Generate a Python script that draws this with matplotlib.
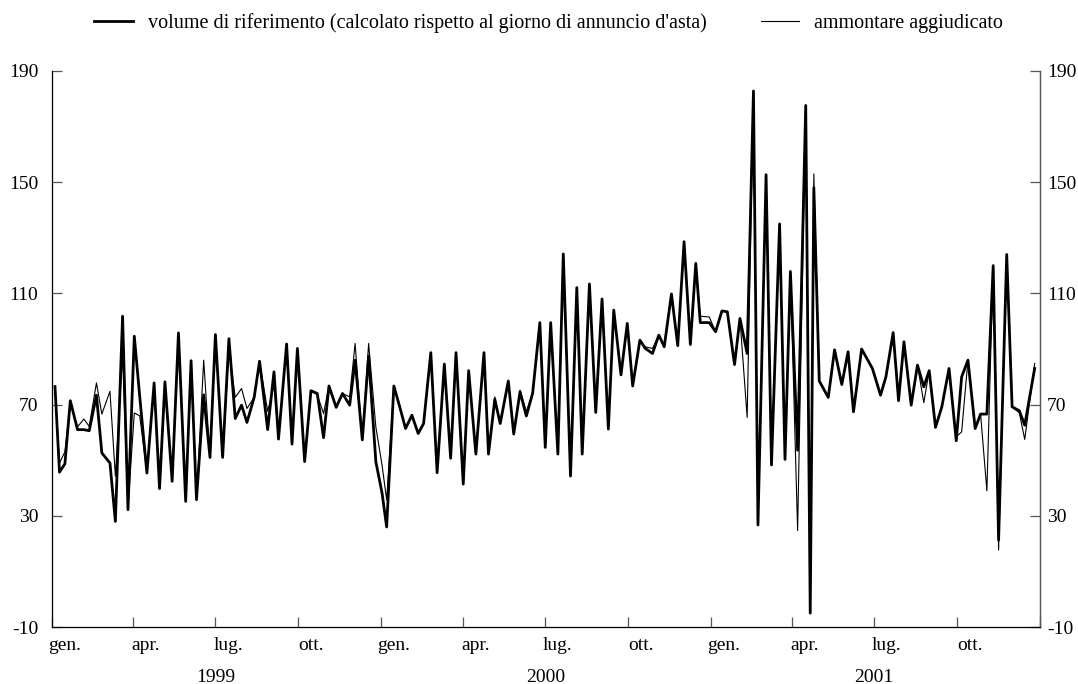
import numpy as np
import pandas as pd
import matplotlib
matplotlib.use('Agg')
import matplotlib.pyplot as plt
import matplotlib.dates as mdates
from matplotlib.lines import Line2D

# auction dates
dates = [
    '1999-01-04', '1999-01-09', '1999-01-15', '1999-01-21', '1999-01-29', '1999-02-05', '1999-02-11',
    '1999-02-19', '1999-02-25', '1999-03-06', '1999-03-12', '1999-03-20', '1999-03-26', '1999-04-02',
    '1999-04-08', '1999-04-16', '1999-04-24', '1999-04-30', '1999-05-06', '1999-05-14', '1999-05-21',
    '1999-05-29', '1999-06-04', '1999-06-10', '1999-06-18', '1999-06-25', '1999-07-01', '1999-07-09',
    '1999-07-16', '1999-07-23', '1999-07-30', '1999-08-05', '1999-08-13', '1999-08-19', '1999-08-28',
    '1999-09-04', '1999-09-09', '1999-09-18', '1999-09-24', '1999-09-30', '1999-10-08', '1999-10-15',
    '1999-10-22', '1999-10-29', '1999-11-04', '1999-11-12', '1999-11-19', '1999-11-27', '1999-12-03',
    '1999-12-11', '1999-12-18', '1999-12-26', '2000-01-02', '2000-01-07', '2000-01-15', '2000-01-21',
    '2000-01-28', '2000-02-04', '2000-02-11', '2000-02-17', '2000-02-25', '2000-03-03', '2000-03-11',
    '2000-03-18', '2000-03-24', '2000-04-01', '2000-04-07', '2000-04-15', '2000-04-24', '2000-04-29',
    '2000-05-06', '2000-05-12', '2000-05-21', '2000-05-27', '2000-06-03', '2000-06-10', '2000-06-17',
    '2000-06-25', '2000-07-01', '2000-07-07', '2000-07-15', '2000-07-21', '2000-07-29', '2000-08-05',
    '2000-08-11', '2000-08-19', '2000-08-26', '2000-09-02', '2000-09-09', '2000-09-15', '2000-09-23',
    '2000-09-30', '2000-10-06', '2000-10-14', '2000-10-20', '2000-10-28', '2000-11-04', '2000-11-10',
    '2000-11-18', '2000-11-25', '2000-12-02', '2000-12-09', '2000-12-15', '2000-12-20', '2000-12-30',
    '2001-01-06', '2001-01-13', '2001-01-19', '2001-01-27', '2001-02-02', '2001-02-10', '2001-02-17',
    '2001-02-22', '2001-03-03', '2001-03-09', '2001-03-18', '2001-03-24', '2001-03-30', '2001-04-07',
    '2001-04-16', '2001-04-21', '2001-04-25', '2001-05-01', '2001-05-11', '2001-05-18', '2001-05-26',
    '2001-06-02', '2001-06-08', '2001-06-17', '2001-06-29', '2001-07-08', '2001-07-14', '2001-07-22',
    '2001-07-28', '2001-08-03', '2001-08-11', '2001-08-18', '2001-08-25', '2001-08-31', '2001-09-07',
    '2001-09-14', '2001-09-22', '2001-09-30', '2001-10-06', '2001-10-13', '2001-10-21', '2001-10-27',
    '2001-11-03', '2001-11-10', '2001-11-16', '2001-11-25', '2001-12-01', '2001-12-09', '2001-12-15',
    '2001-12-26',
]

# volume di riferimento (thick line)
volume_rif = [
    76.5, 45.7, 48.7, 71.4, 61.0, 61.0, 60.6, 73.4, 52.6, 49.0, 28.0, 101.8, 32.2, 94.6,
    73.0, 45.4, 77.8, 39.8, 78.2, 42.4, 95.8, 35.2, 85.8, 35.8, 73.5, 51.0, 95.2, 51.0,
    93.7, 65.0, 69.8, 63.6, 72.6, 85.6, 61.0, 81.8, 57.6, 91.8, 55.8, 90.2, 49.5, 75.0,
    74.0, 58.1, 76.7, 69.0, 74.0, 69.8, 86.0, 57.3, 87.5, 49.5, 38.0, 26.0, 76.7, 69.8,
    61.4, 66.2, 59.6, 63.2, 88.7, 45.5, 84.6, 50.7, 88.7, 41.4, 82.2, 52.2, 88.7, 52.2,
    71.9, 63.2, 78.5, 59.4, 74.6, 65.9, 74.1, 99.5, 54.6, 99.5, 52.2, 124.2, 44.3, 112.1,
    52.2, 113.4, 67.2, 108.0, 61.2, 104.0, 80.7, 99.2, 76.7, 93.2, 90.2, 88.4, 95.0, 90.8,
    109.8, 91.2, 128.6, 91.6, 120.8, 99.5, 99.5, 96.2, 103.7, 103.4, 84.4, 101.0, 88.4, 182.8,
    26.7, 152.7, 48.3, 135.0, 50.3, 117.9, 53.6, 177.6, -5.0, 148.0, 78.5, 72.6, 89.7, 77.2,
    89.0, 67.4, 90.0, 83.0, 73.4, 80.0, 95.9, 71.4, 92.6, 69.8, 84.2, 76.4, 82.2, 61.8,
    69.2, 83.0, 57.0, 80.0, 86.0, 61.4, 66.6, 66.6, 120.0, 21.3, 124.0, 69.2, 67.8, 62.6,
    83.0,
]

# ammontare aggiudicato (thin line)
ammontare = [
    76.5, 49.0, 53.0, 70.5, 62.0, 64.8, 62.2, 77.8, 66.6, 74.8, 44.2, 88.0, 33.0, 67.0,
    66.0, 45.4, 77.8, 39.8, 76.0, 42.4, 95.8, 35.2, 85.8, 35.8, 86.0, 51.0, 95.2, 51.0,
    90.0, 72.6, 75.8, 68.6, 72.6, 85.6, 67.6, 77.0, 57.6, 91.8, 55.8, 90.2, 49.5, 75.0,
    73.5, 66.8, 76.7, 69.0, 74.0, 72.8, 92.0, 57.3, 92.0, 62.0, 48.0, 35.7, 76.7, 69.8,
    61.4, 66.2, 59.6, 63.2, 88.7, 45.5, 84.6, 50.7, 88.7, 41.4, 82.2, 52.2, 88.7, 52.2,
    72.8, 63.2, 78.5, 59.4, 75.2, 67.5, 74.1, 99.5, 54.6, 99.5, 52.2, 124.2, 44.3, 112.1,
    52.2, 113.4, 67.2, 108.0, 61.2, 104.0, 80.7, 99.2, 76.7, 93.2, 90.8, 90.2, 95.0, 90.8,
    109.8, 91.2, 128.6, 91.6, 120.8, 101.8, 101.5, 96.2, 103.7, 103.4, 84.4, 101.0, 65.4, 182.8,
    26.7, 152.7, 48.3, 135.0, 50.3, 117.9, 24.7, 177.6, -2.0, 153.0, 78.5, 72.6, 89.7, 77.2,
    89.0, 67.4, 90.0, 83.0, 73.4, 80.0, 95.9, 71.4, 92.6, 69.8, 84.2, 70.7, 82.2, 61.8,
    69.2, 83.0, 58.4, 60.2, 86.0, 61.4, 66.6, 39.0, 120.0, 17.7, 124.0, 69.2, 67.0, 57.5,
    84.8,
]

y_ticks = [-10, 30, 70, 110, 150, 190]
mesi = {1: 'gen.', 4: 'apr.', 7: 'lug.', 10: 'ott.'}
anni = [1999, 2000, 2001]
legend_labels = ["volume di riferimento (calcolato rispetto al giorno di annuncio d'asta)",
                 'ammontare aggiudicato']


def main():
    plt.rcParams['font.family'] = ['Liberation Serif', 'DejaVu Serif']
    plt.rcParams['axes.unicode_minus'] = False
    x = pd.to_datetime(dates)

    fig = plt.figure(figsize=(10.78, 6.84), dpi=100)
    ax = fig.add_axes([0.0485, 0.0833, 0.9163, 0.8129])

    ax.plot(x, ammontare, color='black', linewidth=0.8)
    ax.plot(x, volume_rif, color='black', linewidth=2.0)

    # axes limits
    ax.set_xlim(pd.Timestamp('1999-01-01'), pd.Timestamp('2002-01-01'))
    ax.set_ylim(-10, 190)
    ax.set_yticks(y_ticks)

    # spines: no top border
    ax.spines['top'].set_visible(False)
    for s in ['left', 'right', 'bottom']:
        ax.spines[s].set_color('#555555')
        ax.spines[s].set_linewidth(0.9)

    # left y ticks
    ax.tick_params(axis='y', direction='in', length=7, width=0.9, color='#555555',
                   labelsize=14, pad=10)

    # right y axis, same scale
    ax2 = ax.twinx()
    ax2.set_ylim(ax.get_ylim())
    ax2.set_yticks(y_ticks)
    ax2.spines['top'].set_visible(False)
    ax2.spines['right'].set_color('#555555')
    ax2.spines['right'].set_linewidth(0.9)
    ax2.tick_params(axis='y', direction='in', length=7, width=0.9, color='#555555',
                    labelsize=14, pad=5)

    # x: quarter ticks, month labels at mid-month
    ax.xaxis.set_major_locator(mdates.MonthLocator(bymonth=[1, 4, 7, 10]))
    ax.xaxis.set_major_formatter(plt.NullFormatter())
    ax.xaxis.set_minor_locator(mdates.MonthLocator(bymonth=[1, 4, 7, 10], bymonthday=15))
    ax.xaxis.set_minor_formatter(plt.FuncFormatter(lambda v, p: mesi[mdates.num2date(v).month]))
    ax.tick_params(axis='x', which='major', direction='in', length=7, width=0.9, color='#555555')
    ax.tick_params(axis='x', which='minor', length=0, labelsize=14, pad=7)

    # year labels
    for a in anni:
        ax.text(pd.Timestamp('%d-07-01' % a), -0.09, str(a), transform=ax.get_xaxis_transform(),
                ha='center', va='center', fontsize=14)

    # legend
    handles = [Line2D([], [], color='black', linewidth=2.0),
               Line2D([], [], color='black', linewidth=0.8)]
    fig.legend(handles, legend_labels, loc='center', bbox_to_anchor=(0.509, 0.966), ncol=2,
               frameon=False, fontsize=14.5, handlelength=1.9, handletextpad=0.75, columnspacing=2.7)

    plt.savefig('out.png', dpi=100)


if __name__ == '__main__':
    main()
